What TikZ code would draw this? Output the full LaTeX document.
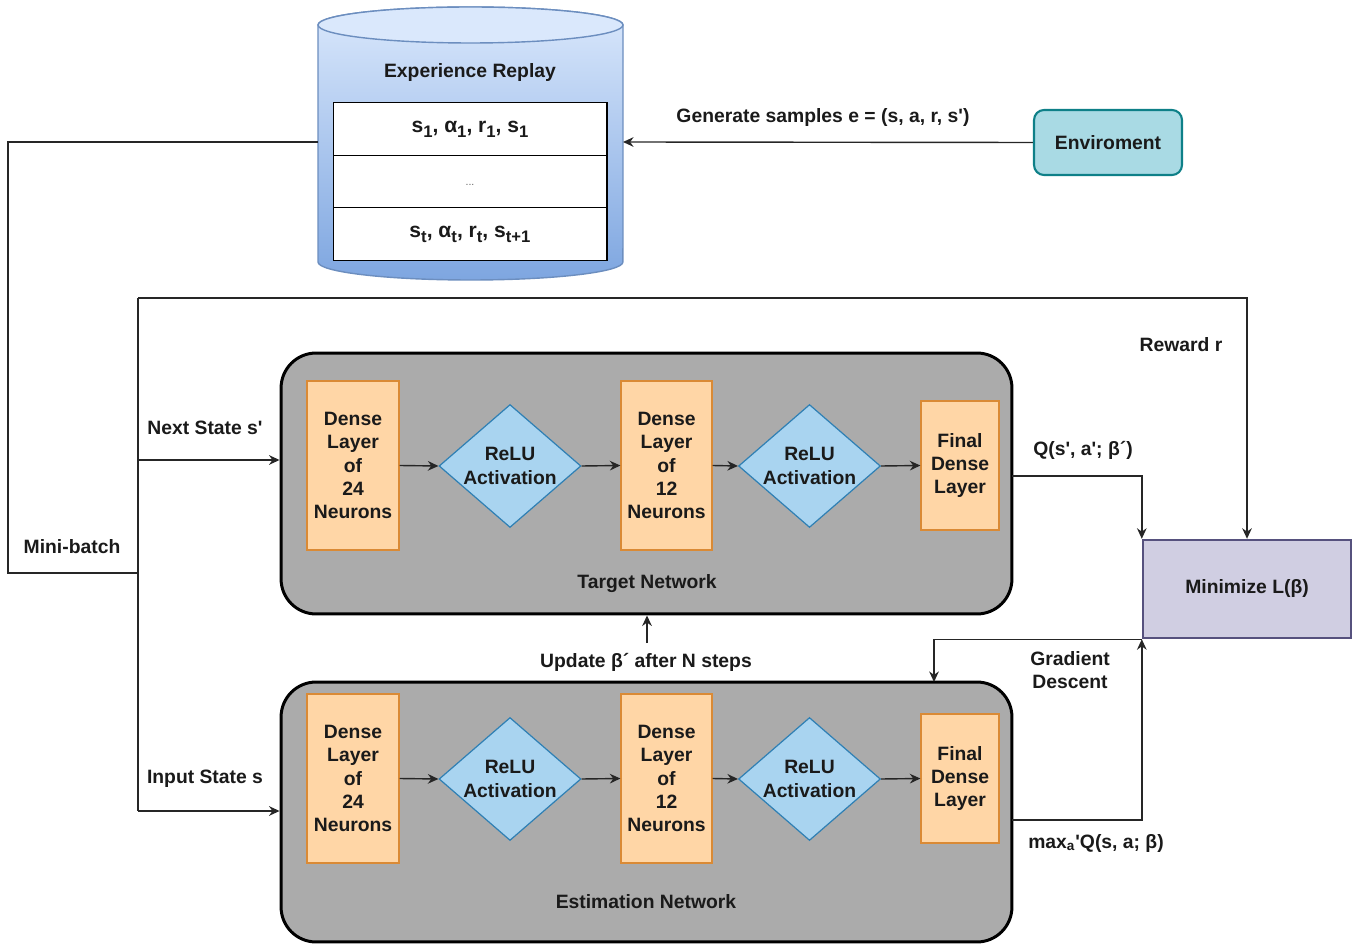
\documentclass[tikz,border=0pt]{standalone}
\usepackage{fontspec}
\newfontfamily\lib{Liberation Sans}
\usetikzlibrary{shapes.geometric,arrows.meta}
\definecolor{dfill}{RGB}{255,214,166}
\definecolor{dline}{RGB}{218,138,53}
\definecolor{rfill}{RGB}{169,212,240}
\definecolor{rline}{RGB}{48,128,180}
\definecolor{netfill}{RGB}{171,171,171}
\definecolor{minfill}{RGB}{208,206,226}
\definecolor{minline}{RGB}{86,81,126}
\definecolor{envfill}{RGB}{169,218,228}
\definecolor{envline}{RGB}{14,128,136}
\definecolor{cyltop}{RGB}{218,232,252}
\definecolor{cylbot}{RGB}{126,166,224}
\definecolor{cylline}{RGB}{108,142,191}
\definecolor{txt}{RGB}{26,26,26}
\newcommand\sbs[1]{\raisebox{-0.45ex}{\fontsize{9.5}{10}\selectfont #1}}
\begin{document}
\begin{tikzpicture}[x=0.02cm,y=-0.02cm,
  every node/.style={font=\lib\bfseries\fontsize{11}{13.3}\selectfont, text=txt, align=center},
  lbl/.style={inner sep=1pt},
  densebox/.style={draw=dline, fill=dfill, line width=0.7pt, inner sep=0pt},
  relubox/.style={diamond, draw=rline, fill=rfill, line width=0.7pt, inner sep=0pt, minimum width=2.84cm, minimum height=2.46cm},
  netbox/.style={draw=black, fill=netfill, line width=1.7pt, rounded corners=0.7cm, minimum width=14.62cm, inner sep=0pt},
  rowbox/.style={draw=black, fill=white, line width=0.6pt, minimum width=5.48cm, minimum height=1.05cm, inner sep=0pt, font=\lib\bfseries\fontsize{12}{14}\selectfont},
  conn/.style={draw=black!85, line width=0.8pt},
  arr/.style={conn, -{Stealth[length=6pt,width=5.5pt]}}
]
\useasboundingbox (0,0) rectangle (1365,945);

% ---------- Experience replay cylinder ----------
\path[top color=cyltop, bottom color=cylbot, draw=cylline, line width=0.8pt]
  (318,25) -- (318,262) arc[start angle=180,end angle=360,x radius=3.05cm,y radius=0.36cm]
  -- (623,25) arc[start angle=0,end angle=180,x radius=3.05cm,y radius=0.36cm] -- cycle;
\path[fill=cyltop, draw=cylline, line width=0.8pt] (470.5,25) ellipse[x radius=3.05cm, y radius=0.36cm];
\node (ertitle) at (470,73) {Experience Replay};
\node[rowbox] (row1) at (470,129) {s\sbs{1}, α\sbs{1}, r\sbs{1}, s\sbs{1}};
\node[rowbox] (row2) at (470,181.5) {};
\node[font=\lib\fontsize{6}{7}\selectfont, text=black!60] (dots) at (470,185) {...};
\node[rowbox] (row3) at (470,234) {s\sbs{t}, α\sbs{t}, r\sbs{t}, s\sbs{t+1}};
\coordinate (cylL) at (318,142);
\coordinate (cylR) at (623,142);

% ---------- Environment ----------
\node[draw=envline, fill=envfill, line width=1.2pt, rounded corners=0.2cm, minimum width=2.96cm, minimum height=1.3cm] (env) at (1108,142.5) {Enviroment};
\node[lbl] (gen) at (823,118) {Generate samples e = (s, a, r, s')};

% ---------- Networks ----------
\node[netbox, minimum height=5.22cm] (targ) at (646.5,483.5) {};
\node[netbox, minimum height=5.2cm] (est) at (646.5,812) {};
\node[lbl] (targlbl) at (647,584) {Target Network};
\node[lbl] (estlbl) at (646,902) {Estimation Network};

% target row
\node[densebox, minimum width=1.84cm, minimum height=3.38cm] (d24t) at (353,465.5) {Dense\\Layer\\of\\24\\Neurons};
\node[relubox] (r1t) at (510,466) {};
\node (r1tl) at (r1t) {ReLU\\Activation};
\node[densebox, minimum width=1.82cm, minimum height=3.38cm] (d12t) at (666.5,465.5) {Dense\\Layer\\of\\12\\Neurons};
\node[relubox] (r2t) at (809.5,466) {};
\node (r2tl) at (r2t) {ReLU\\Activation};
\node[densebox, minimum width=1.56cm, minimum height=2.58cm] (fdt) at (960,465.5) {Final\\Dense\\Layer};

% estimation row
\node[densebox, minimum width=1.84cm, minimum height=3.38cm] (d24e) at (353,778.5) {Dense\\Layer\\of\\24\\Neurons};
\node[relubox] (r1e) at (510,779) {};
\node (r1el) at (r1e) {ReLU\\Activation};
\node[densebox, minimum width=1.82cm, minimum height=3.38cm] (d12e) at (666.5,778.5) {Dense\\Layer\\of\\12\\Neurons};
\node[relubox] (r2e) at (809.5,779) {};
\node (r2el) at (r2e) {ReLU\\Activation};
\node[densebox, minimum width=1.56cm, minimum height=2.58cm] (fde) at (960,778.5) {Final\\Dense\\Layer};

\foreach \r in {t,e}{
  \draw[arr] (d24\r.east) -- (r1\r.west);
  \draw[arr] (r1\r.east) -- (d12\r.west);
  \draw[arr] (d12\r.east) -- (r2\r.west);
  \draw[arr] (r2\r.east) -- (fd\r.west);
}

% ---------- Minimize ----------
\node[draw=minline, fill=minfill, line width=1.4pt, minimum width=4.16cm, minimum height=1.96cm] (mini) at (1247,589) {Minimize L(β)};

% ---------- Connectors ----------
\draw[arr] (env.west) -- (cylR);
\coordinate (mb) at (138,573);
\coordinate (rw) at (138,298);
\coordinate (ns) at (138,460);
\coordinate (is) at (138,811);
\draw[conn] (cylL) -- (8,142) -- (8,573) -- (mb);
\draw[conn] (rw) -- (is);
\draw[arr] (ns) -- (ns -| targ.west);
\draw[arr] (is) -- (is -| est.west);
\draw[arr] (rw) -| (mini.north);

\coordinate (qs) at (1012,476);
\draw[arr] (qs) -| (mini.north west);
\coordinate (gd) at (934,682);
\draw[arr] (mini.south west) -| (gd);
\coordinate (mx) at (1012,820);
\draw[arr] (mx) -| (mini.south west);

\node[lbl] (upd) at (646,662) {Update β´ after N steps};
\coordinate (updS) at (647,643);
\draw[arr] (updS) -- (updS |- targ.south);

% ---------- Labels ----------
\node[lbl] (rewl) at (1181,345) {Reward r};
\node[lbl] (nsl) at (205,428) {Next State s'};
\node[lbl] (mbl) at (72,547) {Mini-batch};
\node[lbl] (isl) at (205,779) {Input State s};
\node[lbl] (ql) at (1083,450) {Q(s', a'; β´)};
\node[lbl] (gdl) at (1070,670) {Gradient\\Descent};
\node[lbl] (mxl) at (1096,843) {max\textsubscript{a}'Q(s, a; β)};
\end{tikzpicture}
\end{document}
